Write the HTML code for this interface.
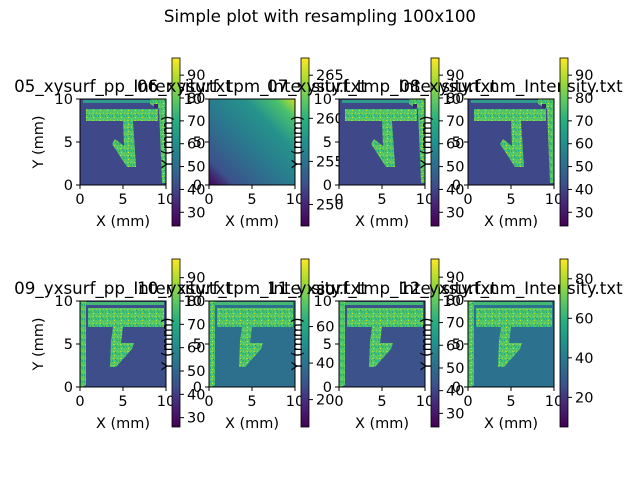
<!DOCTYPE html>
<html><head><meta charset="utf-8"><style>
body{margin:0;background:#fff}
svg{display:block;font-family:"DejaVu Sans","Liberation Sans",sans-serif}
</style></head><body>
<svg id="fig" width="640" height="480" viewBox="0 0 640 480" xmlns="http://www.w3.org/2000/svg">
<defs>
<linearGradient id="vir" x1="0" y1="1" x2="0" y2="0">
<stop offset="0" stop-color="#440154"/><stop offset="0.13" stop-color="#482475"/><stop offset="0.25" stop-color="#3b528b"/><stop offset="0.38" stop-color="#2c728e"/><stop offset="0.5" stop-color="#21918c"/><stop offset="0.63" stop-color="#28ae80"/><stop offset="0.75" stop-color="#5ec962"/><stop offset="0.88" stop-color="#addc30"/><stop offset="1" stop-color="#fde725"/>
</linearGradient>
<linearGradient id="grad06" x1="0" y1="1" x2="1" y2="0">
<stop offset="0" stop-color="#440154"/><stop offset="0.15" stop-color="#3b528b"/><stop offset="0.45" stop-color="#2a788e"/><stop offset="0.7" stop-color="#25938c"/><stop offset="0.88" stop-color="#4ac16d"/><stop offset="1" stop-color="#c8e020"/>
</linearGradient>
<pattern id="spk" width="7" height="7" patternUnits="userSpaceOnUse">
<rect width="7" height="7" fill="#52c569"/><rect x="1" y="1" width="2" height="1" fill="#9fda3a"/><rect x="4" y="3" width="2" height="2" fill="#2fb47c"/><rect x="2" y="5" width="1" height="1" fill="#d8e219"/><rect x="5" y="0" width="1" height="2" fill="#7ad151"/><rect x="0" y="3" width="1" height="2" fill="#26ad81"/><rect x="3" y="2" width="1" height="1" fill="#21918c"/>
</pattern>
</defs>
<text x="320" y="22" font-size="16.7" text-anchor="middle">Simple plot with resampling 100x100</text>
<g id="plots"></g>
</svg>
<script>
const titles=["05_xysurf_pp_Intensity.txt","06_xysurf_tpm_Intensity.txt","07_xysurf_tmp_Intensity.txt","08_xysurf_nm_Intensity.txt","09_yxsurf_pp_Intensity.txt","10_yxsurf_tpm_Intensity.txt","11_yxsurf_tmp_Intensity.txt","12_yxsurf_nm_Intensity.txt"];
const cbMin=[24,247.5,24,24,26,5,24,5];
const cbMax=[97.5,267,97.5,97.5,98,97,98,90];
const cbTicks=[[30,40,50,60,70,80,90],[250,255,260,265],[30,40,50,60,70,80,90],[30,40,50,60,70,80,90],[30,40,50,60,70,80,90],[20,40,60,80],[30,40,50,60,70,80,90],[20,40,60,80]];
const bgs=["#3f4889","grad","#3f4889","#3f4889","#3d4e8a","#2d708e","#3b528b","#2c728e"];
const axTicks=[0,5,10];
const NS="http://www.w3.org/2000/svg";
const root=document.getElementById('plots');
const axL=[80,209,339,468], rowT=[99,301], cbTop=[58,259], cbBot=[226,427];
function mk(tag,attrs,parent,txt){const e=document.createElementNS(NS,tag);for(const k in attrs)e.setAttribute(k,attrs[k]);if(txt!==undefined)e.textContent=txt;parent.appendChild(e);return e;}
for(let i=0;i<8;i++){
  const r=Math.floor(i/4),c=i%4,L=axL[c],T=rowT[r],W=86,H=86;
  const g=mk('g',{},root);
  
  
  const sx=v=>L+v/10*W, sy=v=>T+H-v/10*H;
  const img=mk('g',{},g);
  
  
  mk('rect',{x:L,y:T,width:W,height:H,fill:bgs[i]==='grad'?'url(#grad06)':bgs[i]},img);
  if(i!==1){
    const f='url(#spk)';
    const tr=(x,y)=>(L+x)+','+(T+y);
    if(r===0){
      mk('rect',{x:L+3,y:T+1,width:72,height:3,fill:'#2e9a8a'},img);
      mk('polygon',{points:[tr(70,0),tr(86,0),tr(86,84),tr(82,84),tr(79,10),tr(70,5)].join(' '),fill:f},img);
      mk('rect',{x:L+74,y:T+5,width:4,height:4,fill:'#3b2a6e'},img);
      mk('rect',{x:L+6,y:T+10,width:72,height:12,fill:f},img);
      mk('polygon',{points:[tr(43,22),tr(53,22),tr(56,68),tr(47,68),tr(32,45),tr(35,40),tr(44,47)].join(' '),fill:f},img);
    }else{
      mk('rect',{x:L+6,y:T+1,width:78,height:3,fill:'#45b873'},img);
      mk('polygon',{points:[tr(0,0),tr(6,0),tr(6,84),tr(2,86),tr(0,86)].join(' '),fill:f},img);
      mk('rect',{x:L+8,y:T+7,width:76,height:19,fill:f},img);
      mk('polygon',{points:[tr(33,26),tr(43,26),tr(41,42),tr(54,42),tr(52,48),tr(36,66),tr(30,66),tr(31,40)].join(' '),fill:f},img);
    }
  }
  mk('rect',{x:L,y:T,width:W,height:H,fill:'none',stroke:'#000','stroke-width':1},g);
  axTicks.forEach(v=>{
    mk('line',{x1:sx(v),x2:sx(v),y1:T+H,y2:T+H+4,stroke:'#000'},g);
    const xt=mk('text',{x:sx(v),y:T+H+19,'font-size':14.5,'text-anchor':'middle'},g,String(v));
    
    
    mk('line',{x1:L-4,x2:L,y1:sy(v),y2:sy(v),stroke:'#000'},g);
    const yt=mk('text',{x:L-7,y:sy(v)+5,'font-size':14.5,'text-anchor':'end'},g,String(v));
    
    
  });
  const xl=mk('text',{x:L+W/2,y:T+H+41,'font-size':14.5,'text-anchor':'middle'},g,'X (mm)');
  
  
  const yl=mk('text',{x:L-37,y:T+H/2,'font-size':14.5,'text-anchor':'middle',transform:`rotate(-90 ${L-37} ${T+H/2})`},g,'Y (mm)');
  
  
  const tt=mk('text',{x:L+W/2,y:T-7,'font-size':16.7,'text-anchor':'middle'},g,titles[i]);
  
  
  const cx=L+92,ct=cbTop[r],cb=cbBot[r];
  const cbg=mk('g',{},g);
  
  
  mk('rect',{x:cx,y:ct,width:8,height:cb-ct,fill:'url(#vir)',stroke:'#000','stroke-width':0.8},cbg);
  const cy=v=>cb-(v-cbMin[i])/(cbMax[i]-cbMin[i])*(cb-ct);
  cbTicks[i].forEach(v=>{
    const y=cy(v); if(y<ct-1||y>cb+1)return;
    mk('line',{x1:cx+8,x2:cx+12,y1:y,y2:y,stroke:'#000'},cbg);
    const t=mk('text',{x:cx+15,y:y+5,'font-size':14.5},cbg,String(v));
    
    
  });
}
</script>
</body></html>
